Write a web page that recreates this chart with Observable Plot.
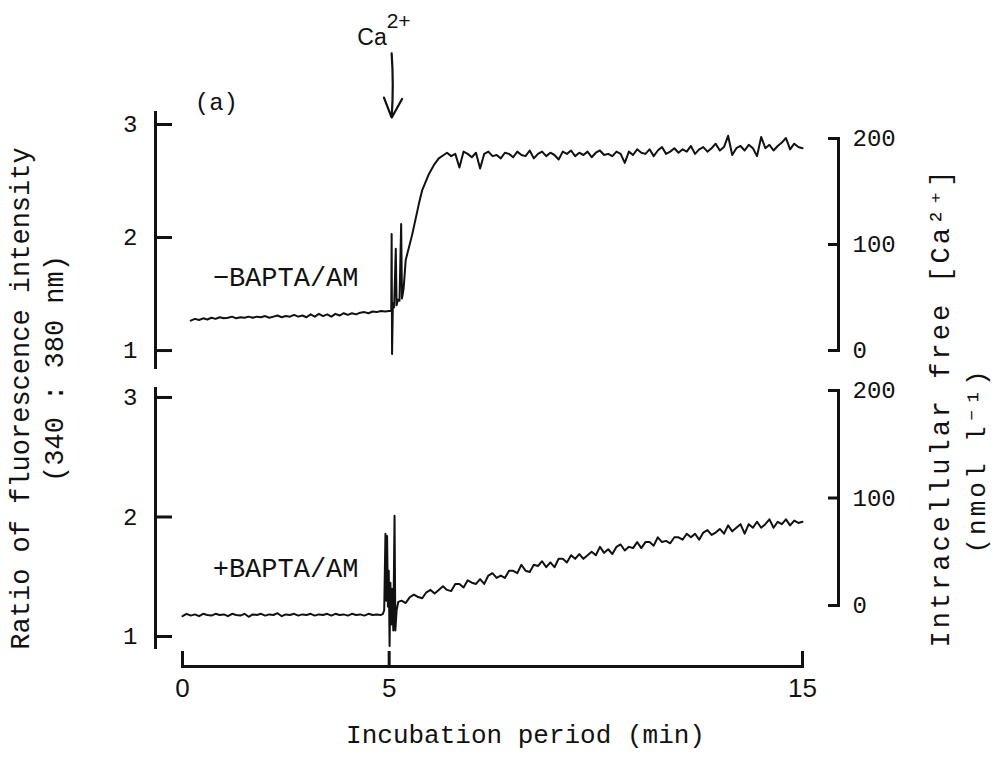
<!DOCTYPE html>
<html><head><meta charset="utf-8">
<script src="https://cdn.jsdelivr.net/npm/d3@7"></script>
<script src="https://cdn.jsdelivr.net/npm/@observablehq/plot@0.6"></script>
<style>
html,body{margin:0;padding:0;background:#fff;}
#fig{position:relative;width:999px;height:762px;background:#fff;overflow:hidden;}
</style></head><body><div id="fig"></div>
<script>
// ---- data ----
const timeTicks = [0, 5, 15];
const ratioTicks = [1, 2, 3];
const caTicks = [0, 100, 200];

// -BAPTA/AM trace: [time (min), fluorescence ratio]
const minusBapta = [
[0.2,1.265],[0.3,1.28],[0.4,1.27],[0.5,1.285],[0.6,1.275],[0.7,1.29],[0.8,1.28],[0.9,1.295],[1.0,1.285],[1.1,1.29],
[1.2,1.30],[1.3,1.285],[1.4,1.295],[1.5,1.29],[1.6,1.30],[1.7,1.29],[1.8,1.30],[1.9,1.295],[2.0,1.305],[2.1,1.29],
[2.2,1.30],[2.3,1.31],[2.4,1.295],[2.5,1.305],[2.6,1.30],[2.7,1.315],[2.8,1.30],[2.9,1.31],[3.0,1.295],[3.1,1.32],
[3.2,1.30],[3.3,1.325],[3.4,1.305],[3.5,1.32],[3.6,1.30],[3.7,1.325],[3.8,1.31],[3.9,1.33],[4.0,1.315],[4.1,1.33],
[4.2,1.32],[4.3,1.335],[4.4,1.34],[4.5,1.33],[4.6,1.345],[4.7,1.34],[4.8,1.35],[4.9,1.345],[5.0,1.35],
[5.05,1.35],[5.06,2.03],[5.07,0.97],[5.09,1.42],[5.12,1.38],[5.16,1.90],[5.18,1.40],[5.21,1.45],[5.25,1.44],[5.29,2.12],
[5.31,1.46],[5.35,1.55],[5.40,1.80],[5.56,2.03],[5.72,2.30],[5.80,2.42],[5.96,2.56],[6.08,2.64],[6.20,2.70],[6.32,2.73],
[6.4,2.75],[6.5,2.72],[6.6,2.74],[6.7,2.62],[6.8,2.76],[6.9,2.74],[7.0,2.71],[7.1,2.75],[7.2,2.61],[7.3,2.74],
[7.4,2.76],[7.5,2.72],[7.6,2.73],[7.7,2.70],[7.8,2.75],[7.9,2.74],[8.0,2.71],[8.1,2.76],[8.2,2.73],[8.3,2.72],
[8.4,2.77],[8.5,2.70],[8.6,2.74],[8.7,2.76],[8.8,2.72],[8.9,2.75],[9.0,2.73],[9.1,2.69],[9.2,2.76],[9.3,2.74],
[9.4,2.77],[9.5,2.72],[9.6,2.75],[9.7,2.73],[9.8,2.76],[9.9,2.71],[10.0,2.75],[10.1,2.77],[10.2,2.73],[10.3,2.74],
[10.4,2.72],[10.5,2.76],[10.6,2.74],[10.7,2.66],[10.8,2.76],[10.9,2.73],[11.0,2.78],[11.1,2.75],[11.2,2.74],[11.3,2.78],
[11.4,2.72],[11.5,2.77],[11.6,2.80],[11.7,2.74],[11.8,2.76],[11.9,2.79],[12.0,2.75],[12.1,2.78],[12.2,2.76],[12.3,2.81],
[12.4,2.74],[12.5,2.78],[12.6,2.80],[12.7,2.76],[12.8,2.79],[12.9,2.83],[13.0,2.77],[13.1,2.80],[13.2,2.90],[13.3,2.73],
[13.4,2.79],[13.5,2.81],[13.6,2.77],[13.7,2.82],[13.8,2.79],[13.9,2.72],[14.0,2.89],[14.1,2.79],[14.2,2.82],[14.3,2.77],
[14.4,2.81],[14.5,2.84],[14.6,2.88],[14.7,2.78],[14.8,2.83],[14.9,2.80],[15.0,2.79]
];

// +BAPTA/AM trace: [time (min), fluorescence ratio]
const plusBapta = [
[0.0,1.17],[0.1,1.19],[0.2,1.175],[0.3,1.185],[0.4,1.17],[0.5,1.19],[0.6,1.18],[0.7,1.175],[0.8,1.19],[0.9,1.18],
[1.0,1.185],[1.1,1.17],[1.2,1.19],[1.3,1.18],[1.4,1.175],[1.5,1.19],[1.6,1.165],[1.7,1.185],[1.8,1.18],[1.9,1.19],
[2.0,1.175],[2.1,1.185],[2.2,1.18],[2.3,1.195],[2.4,1.17],[2.5,1.185],[2.6,1.18],[2.7,1.19],[2.8,1.175],[2.9,1.185],
[3.0,1.18],[3.1,1.19],[3.2,1.175],[3.3,1.185],[3.4,1.18],[3.5,1.19],[3.6,1.175],[3.7,1.19],[3.8,1.18],[3.9,1.185],
[4.0,1.175],[4.1,1.19],[4.2,1.18],[4.3,1.185],[4.4,1.175],[4.5,1.19],[4.6,1.18],[4.7,1.185],[4.8,1.18],
[4.85,1.19],[4.88,1.22],[4.91,1.86],[4.93,1.30],[4.95,1.84],[4.97,1.25],[4.99,1.55],[5.01,0.92],[5.03,1.45],[5.05,1.10],
[5.07,1.40],[5.10,1.05],[5.13,2.01],[5.15,1.05],[5.18,1.22],[5.22,1.29],
[5.3,1.30],[5.4,1.28],[5.5,1.33],[5.6,1.35],[5.7,1.33],[5.8,1.32],[5.9,1.37],[6.0,1.39],[6.1,1.36],[6.2,1.39],
[6.3,1.42],[6.4,1.39],[6.5,1.38],[6.6,1.44],[6.7,1.44],[6.8,1.41],[6.9,1.47],[7.0,1.45],[7.1,1.44],[7.2,1.48],
[7.3,1.44],[7.4,1.51],[7.5,1.53],[7.6,1.49],[7.7,1.51],[7.8,1.49],[7.9,1.55],[8.0,1.55],[8.1,1.53],[8.2,1.60],
[8.3,1.55],[8.4,1.54],[8.5,1.60],[8.6,1.59],[8.7,1.63],[8.8,1.58],[8.9,1.62],[9.0,1.58],[9.1,1.65],[9.2,1.65],
[9.3,1.62],[9.4,1.68],[9.5,1.65],[9.6,1.69],[9.7,1.65],[9.8,1.68],[9.9,1.71],[10.0,1.68],[10.1,1.75],[10.2,1.70],
[10.3,1.73],[10.4,1.69],[10.5,1.75],[10.6,1.77],[10.7,1.72],[10.8,1.75],[10.9,1.74],[11.0,1.79],[11.1,1.74],[11.2,1.79],
[11.3,1.79],[11.4,1.76],[11.5,1.83],[11.6,1.79],[11.7,1.80],[11.8,1.78],[11.9,1.83],[12.0,1.83],[12.1,1.81],[12.2,1.86],
[12.3,1.83],[12.4,1.86],[12.5,1.81],[12.6,1.87],[12.7,1.89],[12.8,1.85],[12.9,1.87],[13.0,1.90],[13.1,1.86],[13.2,1.93],
[13.3,1.88],[13.4,1.91],[13.5,1.94],[13.6,1.86],[13.7,1.94],[13.8,1.91],[13.9,1.96],[14.0,1.91],[14.1,1.94],[14.2,1.98],
[14.3,1.91],[14.4,1.96],[14.5,1.94],[14.6,1.98],[14.7,1.93],[14.8,1.97],[14.9,1.95],[15.0,1.96]
];

// annotation texts and their data positions [time, ratio]
const panelLabels = ["\u2212BAPTA/AM", "+BAPTA/AM"];
const panelLabelPos = [[0.73, 1.646], [0.73, 1.569]];
const panelTag = ["(a)", 0.82, 3.2];
const caLabel = ["Ca", 4.23, 3.77];
const caSup = ["2+", 4.94, 3.91];
const caArrow = [5.06, 3.63, 3.06];
const xTitle = "Incubation period (min)";
const yLeftTitle = ["Ratio of fluorescence intensity", "(340 : 380 nm)"];
const yRightTitle = ["Intracellular free [Ca\u00B2\u207A]", "(nmol l\u207B\u00B9)"];

// ---- drawing ----
const MONO = "'Liberation Mono', 'DejaVu Sans Mono', monospace";
const NARROW = "'Liberation Sans Narrow', 'Liberation Sans', Arial, sans-serif";
const INK = "#111";
const fig = document.getElementById("fig");
function add(p, spacing) {
  p.style.position = "absolute"; p.style.left = "0px"; p.style.top = "0px";
  p.style.background = "transparent"; p.style.overflow = "visible";
  if (spacing) p.style.letterSpacing = spacing;
  fig.appendChild(p);
}
const base = {width: 999, height: 762, style: {background: "transparent", overflow: "visible", fontFamily: MONO, color: INK}};
const intFmt = d => String(d);

function leftPanel(data, yDomain, mTop, mBottom, labelIdx, extra) {
  return Plot.plot({
    ...base,
    marginTop: mTop, marginBottom: mBottom, marginLeft: 155, marginRight: 161,
    x: {domain: [0, 15], range: [182, 802], axis: null},
    y: {domain: yDomain},
    marks: [
      Plot.frame({anchor: "left", stroke: INK, strokeWidth: 3}),
      Plot.axisY(ratioTicks, {anchor: "left", tickSize: -17, stroke: INK, strokeWidth: 3, tickFormat: () => "", label: null}),
      Plot.axisY(ratioTicks, {anchor: "left", tickSize: 0, tickPadding: 18, tickFormat: intFmt, fontSize: 24, fontFamily: MONO, fill: INK, label: null}),
      Plot.line(data, {x: d => d[0], y: d => d[1], stroke: INK, strokeWidth: 2, strokeLinejoin: "round"}),
      Plot.text([panelLabels[labelIdx]], {x: panelLabelPos[labelIdx][0], y: panelLabelPos[labelIdx][1], text: d => d,
        textAnchor: "start", fontSize: 27, fontFamily: MONO, fill: INK}),
      ...extra
    ]
  });
}

function rightAxis(mTop, mBottom) {
  return Plot.plot({
    ...base,
    marginTop: mTop, marginBottom: mBottom, marginLeft: 155, marginRight: 161,
    y: {domain: [0, 200]},
    marks: [
      Plot.frame({anchor: "right", stroke: INK, strokeWidth: 3}),
      Plot.axisY(caTicks, {anchor: "right", tickSize: -11, stroke: INK, strokeWidth: 3, tickFormat: () => "", label: null}),
      Plot.axisY(caTicks, {anchor: "right", tickSize: 0, tickPadding: 14, tickFormat: intFmt, fontSize: 24, fontFamily: MONO, fill: INK, label: null})
    ]
  });
}

const topExtra = [
  Plot.text([panelTag[0]], {x: panelTag[1], y: panelTag[2], text: d => d, fontSize: 24, fontFamily: MONO, fill: INK}),
  Plot.text([caLabel[0]], {x: caLabel[1], y: caLabel[2], text: d => d, textAnchor: "start", fontSize: 23, fontFamily: NARROW, fill: INK}),
  Plot.text([caSup[0]], {x: caSup[1], y: caSup[2], text: d => d, textAnchor: "start", fontSize: 21, fontFamily: NARROW, fill: INK}),
  Plot.arrow([caArrow], {x1: d => d[0], x2: d => d[0], y1: d => d[1], y2: d => d[2], stroke: INK, strokeWidth: 2.2,
    headLength: 22, headAngle: 50, bend: 4})
];

add(leftPanel(minusBapta, [0.85, 3.106], 112, 395, 0, topExtra));
add(rightAxis(138, 412));
add(leftPanel(plusBapta, [0.908, 3.075], 388, 115, 1, []));
add(rightAxis(390, 157));

// x axis
add(Plot.plot({
  ...base,
  marginTop: 600, marginBottom: 96, marginLeft: 182, marginRight: 197,
  x: {domain: [0, 15]},
  marks: [
    Plot.frame({anchor: "bottom", stroke: INK, strokeWidth: 3}),
    Plot.axisX(timeTicks, {tickSize: -15, stroke: INK, strokeWidth: 3, tickFormat: () => "", label: null}),
    Plot.axisX(timeTicks, {tickSize: 0, tickPadding: 12, tickFormat: intFmt, fontSize: 26, fontFamily: NARROW, fill: INK, label: null}),
    Plot.text([xTitle], {frameAnchor: "bottom", dx: 33, dy: 76, text: d => d, fontSize: 26, fontFamily: MONO, fill: INK})
  ]
}));

// axis titles
const titleOpts = {frameAnchor: "top-left", rotate: -90, textAnchor: "middle", lineAnchor: "middle", text: d => d, fontSize: 27, fontFamily: MONO, fill: INK};
add(Plot.plot({
  ...base,
  margin: 0,
  marks: [
    Plot.text([yLeftTitle[0]], {...titleOpts, dx: 20, dy: 398}),
    Plot.text([yLeftTitle[1]], {...titleOpts, dx: 54, dy: 368})
  ]
}));
add(Plot.plot({
  ...base,
  margin: 0,
  marks: [
    Plot.text([yRightTitle[0]], {...titleOpts, dx: 940, dy: 407}),
    Plot.text([yRightTitle[1]], {...titleOpts, dx: 976, dy: 460, fontSize: 26})
  ]
}), "3px");
</script>
</body></html>
